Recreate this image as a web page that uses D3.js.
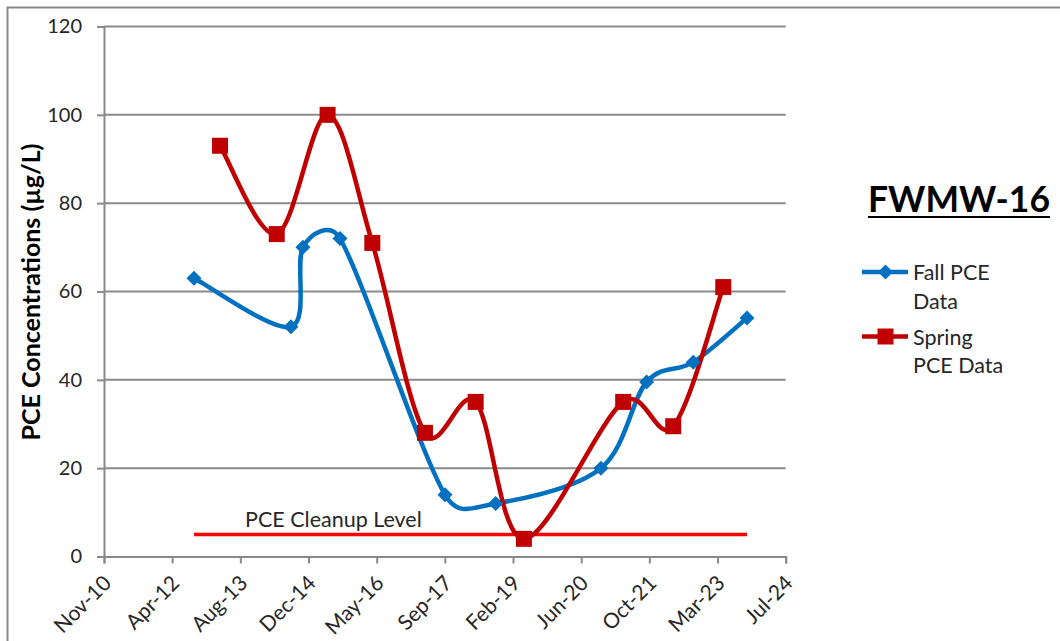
<!DOCTYPE html>
<html><head><meta charset="utf-8">
<script src="https://cdn.jsdelivr.net/npm/d3@7"></script>
<style>body{margin:0;background:#fff}</style></head>
<body><svg id="c" width="1060" height="641"></svg>
<script>
// ---- data ----
const fallDates   = ["2012-09-08","2014-08-20","2014-11-16","2015-08-15","2017-09-23","2018-09-30","2020-11-10","2021-10-11","2022-09-18","2023-10-17"];
const fallValues  = [63, 52, 70, 72, 14, 12, 20, 39.5, 44, 54];
const springDates = ["2013-03-18","2014-05-08","2015-05-16","2016-04-08","2017-04-29","2018-05-06","2019-04-25","2021-04-22","2022-04-24","2023-04-26"];
const springValues= [93, 73, 100, 71, 28, 35, 4, 35, 29.5, 61];
const cleanupDates  = ["2012-09-08","2023-10-17"];
const cleanupValues = [5, 5];
const xTickDates  = ["2010-11-18","2012-04-01","2013-08-14","2014-12-27","2016-05-10","2017-09-22","2019-02-04","2020-06-18","2021-10-31","2023-03-15","2024-07-27"];
const xTickLabels = ["Nov-10","Apr-12","Aug-13","Dec-14","May-16","Sep-17","Feb-19","Jun-20","Oct-21","Mar-23","Jul-24"];
const yTicks = [0, 20, 40, 60, 80, 100, 120];
const chartTitle = "FWMW-16";
const yTitle = "PCE Concentrations (µg/L)";
const cleanupLabel = "PCE Cleanup Level";
const legendLines = [["Fall PCE","Data"],["Spring","PCE Data"]];

const parse = d3.utcParse("%Y-%m-%d");
const svg = d3.select("#c");
const FONT = "Lato, 'Open Sans', sans-serif";
const GRID = "#8a8a8a";
const TXT = "#262626";
const BLUE = "#0070C0", RED = "#C00000", CLEAN = "#FF0000";

const x = d3.scaleUtc().domain([parse(xTickDates[0]), parse(xTickDates[xTickDates.length-1])]).range([104, 785.7]);
const y = d3.scaleLinear().domain([0, 120]).range([556.5, 26.5]);

// chart border
svg.append("path").attr("d","M7.5,645 V7.5 H1065").attr("fill","none").attr("stroke","#898989").attr("stroke-width",2);

// gridlines
svg.append("g").selectAll("line").data(yTicks.filter(d=>d>0)).join("line")
  .attr("x1",x.range()[0]).attr("x2",x.range()[1]).attr("y1",d=>y(d)).attr("y2",d=>y(d))
  .attr("stroke",GRID).attr("stroke-width",2);

// y axis
const yAxis = svg.append("g").attr("transform",`translate(${x.range()[0]},0)`)
  .call(d3.axisLeft(y).tickValues(yTicks).tickSize(7).tickPadding(15).tickFormat(d3.format("d")));
yAxis.select(".domain").attr("stroke",GRID).attr("stroke-width",2);
yAxis.selectAll(".tick line").attr("stroke",GRID).attr("stroke-width",2);
yAxis.selectAll("text").attr("font-family",FONT).attr("font-size",20).attr("fill",TXT);

// x axis
const xAxis = svg.append("g").attr("transform",`translate(0,${y(0)})`)
  .call(d3.axisBottom(x).tickValues(xTickDates.map(parse)).tickSize(7).tickFormat((d,i)=>xTickLabels[i]));
xAxis.select(".domain").attr("stroke",GRID).attr("stroke-width",2);
xAxis.selectAll(".tick line").attr("stroke",GRID).attr("stroke-width",2);
xAxis.selectAll("text").attr("font-family",FONT).attr("font-size",21).attr("fill",TXT)
  .attr("text-anchor","end").attr("dy",null).attr("y",null)
  .attr("transform","translate(8,28) rotate(-45)");

// y title
svg.append("text").attr("transform","translate(40,292) rotate(-90)").attr("text-anchor","middle")
  .attr("font-family",FONT).attr("font-weight","bold").attr("font-size",25).attr("fill","#000").text(yTitle);

// cleanup line
const cleanData = cleanupDates.map((d,i)=>({d:parse(d), v:cleanupValues[i]}));
svg.append("path").datum(cleanData).attr("fill","none").attr("stroke",CLEAN).attr("stroke-width",3.5)
  .attr("d", d3.line().x(p=>x(p.d)).y(p=>y(p.v)));
svg.append("text").attr("x",245).attr("y",527).attr("font-family",FONT).attr("font-size",21.5).attr("fill",TXT).text(cleanupLabel);

// Excel-style smoothed line (Bezier, arm = 1/6 of neighbour chord, clamped to half the segment)
function smoothPath(data){
  const pts = data.map(p=>[x(p.d), y(p.v)]);
  const path = d3.path();
  const dist = (a,b)=>Math.hypot(b[0]-a[0], b[1]-a[1]);
  path.moveTo(pts[0][0], pts[0][1]);
  for (let i=0;i<pts.length-1;i++){
    const P0 = pts[i-1]||pts[i], P1 = pts[i], P2 = pts[i+1], P3 = pts[i+2]||pts[i+1];
    const d12 = dist(P1,P2), d02 = dist(P0,P2), d13 = dist(P1,P3);
    const f1 = d02===0 ? 0 : (d02/6 < d12/2 ? 1/6 : d12/(2*d02));
    const f2 = d13===0 ? 0 : (d13/6 < d12/2 ? 1/6 : d12/(2*d13));
    const c1 = [P1[0]+(P2[0]-P0[0])*f1, P1[1]+(P2[1]-P0[1])*f1];
    const c2 = [P2[0]-(P3[0]-P1[0])*f2, P2[1]-(P3[1]-P1[1])*f2];
    path.bezierCurveTo(c1[0],c1[1],c2[0],c2[1],P2[0],P2[1]);
  }
  return path.toString();
}

const fall = fallDates.map((d,i)=>({d:parse(d), v:fallValues[i]}));
const spring = springDates.map((d,i)=>({d:parse(d), v:springValues[i]}));

svg.append("path").attr("fill","none").attr("stroke",BLUE).attr("stroke-width",4.5).attr("d",smoothPath(fall));
svg.append("path").attr("fill","none").attr("stroke",RED).attr("stroke-width",4.5).attr("d",smoothPath(spring));

const diamond = "M0,-7.5 L7.5,0 L0,7.5 L-7.5,0 Z";
svg.append("g").selectAll("path").data(fall).join("path")
  .attr("transform",p=>`translate(${x(p.d)},${y(p.v)})`).attr("d",diamond).attr("fill",BLUE);
svg.append("g").selectAll("rect").data(spring).join("rect")
  .attr("x",p=>x(p.d)-8).attr("y",p=>y(p.v)-8).attr("width",16).attr("height",16).attr("fill",RED);

// title
const t = svg.append("text").attr("x",868).attr("y",212).attr("font-family",FONT).attr("font-weight","bold")
  .attr("font-size",35.5).attr("fill","#000").text(chartTitle);
const tw = t.node().getComputedTextLength();
svg.append("line").attr("x1",868).attr("x2",868+tw).attr("y1",217).attr("y2",217).attr("stroke","#000").attr("stroke-width",2.2);

// legend
const leg = svg.append("g");
leg.append("line").attr("x1",862).attr("x2",908).attr("y1",272).attr("y2",272).attr("stroke",BLUE).attr("stroke-width",4.5);
leg.append("path").attr("transform","translate(885.5,272)").attr("d",diamond).attr("fill",BLUE);
leg.append("line").attr("x1",862).attr("x2",908).attr("y1",336.5).attr("y2",336.5).attr("stroke",RED).attr("stroke-width",4.5);
leg.append("rect").attr("x",877.5).attr("y",328.5).attr("width",16).attr("height",16).attr("fill",RED);
const legY = [[280,309],[345,373]];
legendLines.forEach((lines,i)=>lines.forEach((s,j)=>{
  leg.append("text").attr("x",913).attr("y",legY[i][j]).attr("font-family",FONT).attr("font-size",21.5).attr("fill",TXT).text(s);
}));
</script></body></html>
